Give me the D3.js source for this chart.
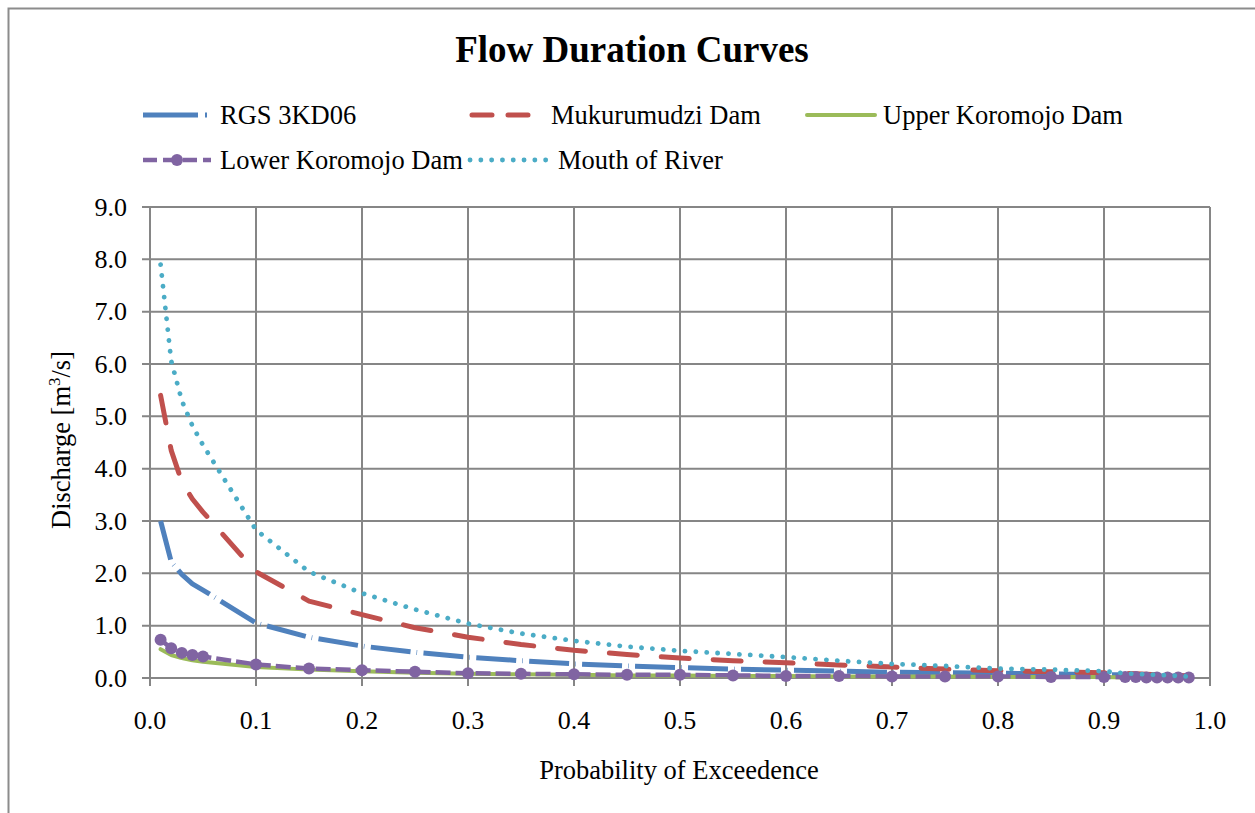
<!DOCTYPE html>
<html>
<head>
<meta charset="utf-8">
<script src="https://cdn.jsdelivr.net/npm/d3@7"></script>
<style>
  body { margin: 0; background: #fff; }
</style>
</head>
<body>
<div class="chart"></div>
<script>
// Chart data
var probs = [0.01, 0.02, 0.03, 0.04, 0.05, 0.10, 0.15, 0.20, 0.25, 0.30, 0.35, 0.40, 0.45, 0.50,
  0.55, 0.60, 0.65, 0.70, 0.75, 0.80, 0.85, 0.90, 0.92, 0.93, 0.94, 0.95, 0.96, 0.97, 0.98];

var rgs3kd06 = [3.0, 2.22, 1.98, 1.80, 1.68, 1.05, 0.78, 0.61, 0.49, 0.40, 0.33, 0.27, 0.23, 0.20,
  0.17, 0.15, 0.13, 0.11, 0.10, 0.09, 0.08, 0.06, 0.06, 0.05, 0.05, 0.04, 0.04, 0.03, 0.03];
var mukurumudzi = [5.4, 4.35, 3.75, 3.42, 3.17, 2.03, 1.47, 1.21, 0.96, 0.78, 0.64, 0.53, 0.45, 0.38,
  0.33, 0.29, 0.25, 0.21, 0.17, 0.14, 0.12, 0.10, 0.09, 0.08, 0.07, 0.06, 0.05, 0.05, 0.04];
var upperKoromojo = [0.55, 0.44, 0.38, 0.34, 0.31, 0.21, 0.16, 0.13, 0.10, 0.08, 0.07, 0.06, 0.05, 0.05,
  0.04, 0.04, 0.03, 0.03, 0.03, 0.02, 0.02, 0.02, 0.01, 0.01, 0.01, 0.01, 0.01, 0.01, 0.01];
var lowerKoromojo = [0.73, 0.57, 0.48, 0.44, 0.41, 0.26, 0.18, 0.15, 0.12, 0.09, 0.08, 0.07, 0.06, 0.06,
  0.05, 0.04, 0.04, 0.03, 0.03, 0.03, 0.02, 0.02, 0.02, 0.02, 0.01, 0.01, 0.01, 0.01, 0.01];
var mouthOfRiver = [7.9, 6.06, 5.3, 4.82, 4.45, 2.83, 2.03, 1.62, 1.31, 1.04, 0.85, 0.71, 0.60, 0.52,
  0.46, 0.40, 0.33, 0.27, 0.23, 0.18, 0.16, 0.13, 0.09, 0.08, 0.07, 0.06, 0.05, 0.04, 0.03];

var xTicks = [0, 0.1, 0.2, 0.3, 0.4, 0.5, 0.6, 0.7, 0.8, 0.9, 1.0];
var yTicks = [0, 1, 2, 3, 4, 5, 6, 7, 8, 9];

var series = [
  { name: "RGS 3KD06", values: rgs3kd06, color: "#4F81BD", width: 5, dash: "40,6,0.6,6.4", cap: "butt" },
  { name: "Mukurumudzi Dam", values: mukurumudzi, color: "#C0504D", width: 5, dash: "28,24", cap: "round" },
  { name: "Upper Koromojo Dam", values: upperKoromojo, color: "#9BBB59", width: 4, dash: null, cap: "round" },
  { name: "Lower Koromojo Dam", values: lowerKoromojo, color: "#8064A2", width: 4.5, dash: "15,5", cap: "butt", marker: true },
  { name: "Mouth of River", values: mouthOfRiver, color: "#4BACC6", width: 4.8, dash: "0.1,10.8", cap: "round" }
];

var serif = "'Liberation Serif', 'Times New Roman', Times, serif";

var svgWidth = 1255;
var svgHeight = 813;
var margin = { top: 207, right: 45, bottom: 135, left: 150 };
var width = svgWidth - margin.left - margin.right;
var height = svgHeight - margin.top - margin.bottom;

var svg = d3.select(".chart")
  .append("svg")
  .attr("width", svgWidth)
  .attr("height", svgHeight)
  .attr("font-family", serif);

// outer frame (runs off the picture on right and bottom)
svg.append("rect")
  .attr("x", 8.5).attr("y", 8.5)
  .attr("width", 1270).attr("height", 830)
  .attr("fill", "none")
  .attr("stroke", "#8c8c8c")
  .attr("stroke-width", 2);

var chart = svg.append("g")
  .attr("transform", "translate(" + margin.left + "," + margin.top + ")");

var xScale = d3.scaleLinear().domain([0, 1]).range([0, width]);
var yScale = d3.scaleLinear().domain([0, 9]).range([height, 0]);

// gridlines
chart.selectAll(".hgrid")
  .data(yTicks)
  .enter().append("line")
  .attr("x1", -8).attr("x2", width)
  .attr("y1", function(d) { return yScale(d); })
  .attr("y2", function(d) { return yScale(d); })
  .attr("stroke", "#868686")
  .attr("stroke-width", 2);

chart.selectAll(".vgrid")
  .data(xTicks)
  .enter().append("line")
  .attr("x1", function(d) { return xScale(d); })
  .attr("x2", function(d) { return xScale(d); })
  .attr("y1", 0).attr("y2", height + 8)
  .attr("stroke", "#868686")
  .attr("stroke-width", 2);

// tick labels
chart.selectAll(".ylab")
  .data(yTicks)
  .enter().append("text")
  .attr("x", -23)
  .attr("y", function(d) { return yScale(d); })
  .attr("dy", "0.33em")
  .attr("text-anchor", "end")
  .attr("font-family", serif)
  .attr("font-size", "26px")
  .text(function(d) { return d3.format(".1f")(d); });

chart.selectAll(".xlab")
  .data(xTicks)
  .enter().append("text")
  .attr("x", function(d) { return xScale(d); })
  .attr("y", height + 51)
  .attr("text-anchor", "middle")
  .attr("font-family", serif)
  .attr("font-size", "26px")
  .text(function(d) { return d3.format(".1f")(d); });

// series lines
var line = d3.line()
  .x(function(d) { return xScale(d[0]); })
  .y(function(d) { return yScale(d[1]); });

series.forEach(function(s) {
  var pts = probs.map(function(p, i) { return [p, s.values[i]]; });
  chart.append("path")
    .datum(pts)
    .attr("d", line)
    .attr("fill", "none")
    .attr("stroke", s.color)
    .attr("stroke-width", s.width)
    .attr("stroke-linecap", s.cap)
    .attr("stroke-linejoin", "round")
    .attr("stroke-dasharray", s.dash);
  if (s.marker) {
    chart.selectAll(".mk")
      .data(pts)
      .enter().append("circle")
      .attr("cx", function(d) { return xScale(d[0]); })
      .attr("cy", function(d) { return yScale(d[1]); })
      .attr("r", 6)
      .attr("fill", s.color);
  }
});

// title
svg.append("text")
  .attr("x", 632)
  .attr("y", 62)
  .attr("text-anchor", "middle")
  .attr("font-family", serif)
  .attr("font-size", "37px")
  .attr("font-weight", "bold")
  .text("Flow Duration Curves");

// axis titles
svg.append("text")
  .attr("x", 679)
  .attr("y", 779)
  .attr("text-anchor", "middle")
  .attr("font-family", serif)
  .attr("font-size", "26.5px")
  .text("Probability of Exceedence");

var yTitle = svg.append("text")
  .attr("transform", "translate(70,440) rotate(-90)")
  .attr("text-anchor", "middle")
  .attr("font-family", serif)
  .attr("font-size", "26.5px");
yTitle.append("tspan").text("Discharge [m");
yTitle.append("tspan").attr("font-size", "17px").attr("dy", "-10").text("3");
yTitle.append("tspan").attr("dy", "10").text("/s]");

// legend
var legendPos = [
  { x: 143, y: 115, len: 66, tx: 220, dash: "55,7,2,100" },
  { x: 472, y: 115, len: 60, tx: 551, dash: "20,16" },
  { x: 807, y: 115, len: 68, tx: 883, dash: null },
  { x: 143, y: 160, len: 68, tx: 220, dash: "14,6" },
  { x: 470, y: 160, len: 76, tx: 558, dash: "0.1,10.7" }
];

series.forEach(function(s, i) {
  var lp = legendPos[i];
  var g = svg.append("g");
  g.append("line")
    .attr("x1", lp.x).attr("x2", lp.x + lp.len)
    .attr("y1", lp.y).attr("y2", lp.y)
    .attr("stroke", s.color)
    .attr("stroke-width", s.width)
    .attr("stroke-linecap", s.cap)
    .attr("stroke-dasharray", lp.dash);
  if (s.marker) {
    g.append("circle")
      .attr("cx", lp.x + lp.len / 2).attr("cy", lp.y)
      .attr("r", 6).attr("fill", s.color);
  }
  g.append("text")
    .attr("x", lp.tx).attr("y", lp.y)
    .attr("dy", "0.33em")
    .attr("font-family", serif)
    .attr("font-size", "26.5px")
    .text(s.name);
});
</script>
</body>
</html>
